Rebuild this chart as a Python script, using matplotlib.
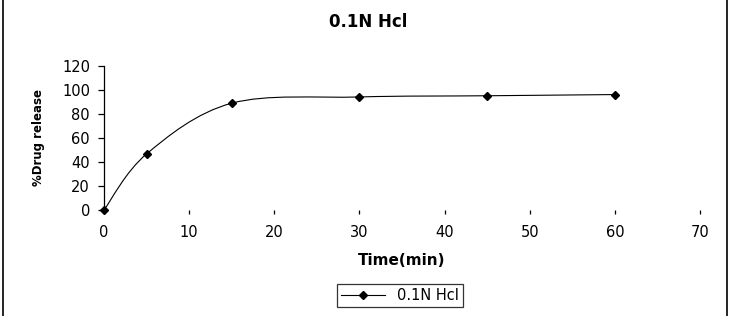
import numpy as np
import matplotlib
matplotlib.use("Agg")
import matplotlib.pyplot as plt
from matplotlib.path import Path
from matplotlib.patches import PathPatch
from matplotlib.lines import Line2D

plt.rcParams["font.family"] = ["DejaVu Sans"]

time_min = [0, 5, 15, 30, 45, 60]
drug_release = [0, 46.7, 89, 94.2, 95.2, 96.2]
series_name = "0.1N Hcl"
x_ticks = [0, 10, 20, 30, 40, 50, 60, 70]
y_ticks = [0, 20, 40, 60, 80, 100, 120]


def smooth_path(xs, ys):
    # Excel-like smoothed line: cubic Bezier through points (Catmull-Rom, 1/6)
    pts = np.column_stack([xs, ys]).astype(float)
    n = len(pts)
    verts = [pts[0]]
    codes = [Path.MOVETO]
    for i in range(n - 1):
        p0 = pts[i - 1] if i > 0 else pts[i]
        p1 = pts[i]
        p2 = pts[i + 1]
        p3 = pts[i + 2] if i + 2 < n else pts[i + 1]
        c1 = p1 + (p2 - p0) / 6.0
        c2 = p2 - (p3 - p1) / 6.0
        verts += [c1, c2, p2]
        codes += [Path.CURVE4] * 3
    return Path(verts, codes)


fig = plt.figure(figsize=(7.36, 3.16), dpi=100)
ax = fig.add_axes([104 / 736, 1 - 210 / 316, 596 / 736, 144 / 316])

ax.add_patch(PathPatch(smooth_path(time_min, drug_release), fill=False,
                       edgecolor="black", linewidth=0.8, clip_on=False))
ax.plot(time_min, drug_release, linestyle="none", marker="D", markersize=4.5,
        color="black", clip_on=False, zorder=3)

ax.set_xlim(0, 70)
ax.set_ylim(0, 120)
ax.set_xticks(x_ticks)
ax.set_yticks(y_ticks)
for side in ["top", "right", "bottom"]:
    ax.spines[side].set_visible(False)
ax.spines["left"].set_linewidth(0.9)
ax.tick_params(axis="y", direction="out", length=4, width=0.9, pad=6, labelsize=10.5)
ax.tick_params(axis="x", direction="out", length=3, width=0.9, pad=8, labelsize=10.5)

ax.set_xlabel("Time(min)", fontsize=11, fontweight="bold", labelpad=9)
ax.set_ylabel("%Drug release", fontsize=8.5, fontweight="bold", labelpad=12)
fig.text(368 / 736, 1 - 22 / 316, "0.1N Hcl", ha="center", va="center",
         fontsize=12, fontweight="bold")

handle = Line2D([], [], color="black", linewidth=0.8, marker="D", markersize=4.5)
leg = fig.legend([handle], [series_name], loc="center",
                 bbox_to_anchor=(400 / 736, 1 - 295.5 / 316),
                 frameon=True, fancybox=False, fontsize=10.5, handlelength=3,
                 borderpad=0.3, edgecolor="black")
leg.get_frame().set_linewidth(0.9)

# outer chart border (left and right edges visible in the crop)
fig.add_artist(Line2D([3 / 736, 3 / 736], [0, 1], color="black", linewidth=1.2,
                      transform=fig.transFigure))
fig.add_artist(Line2D([727 / 736, 727 / 736], [0, 1], color="black", linewidth=1.2,
                      transform=fig.transFigure))

fig.savefig("out.png", dpi=100)
